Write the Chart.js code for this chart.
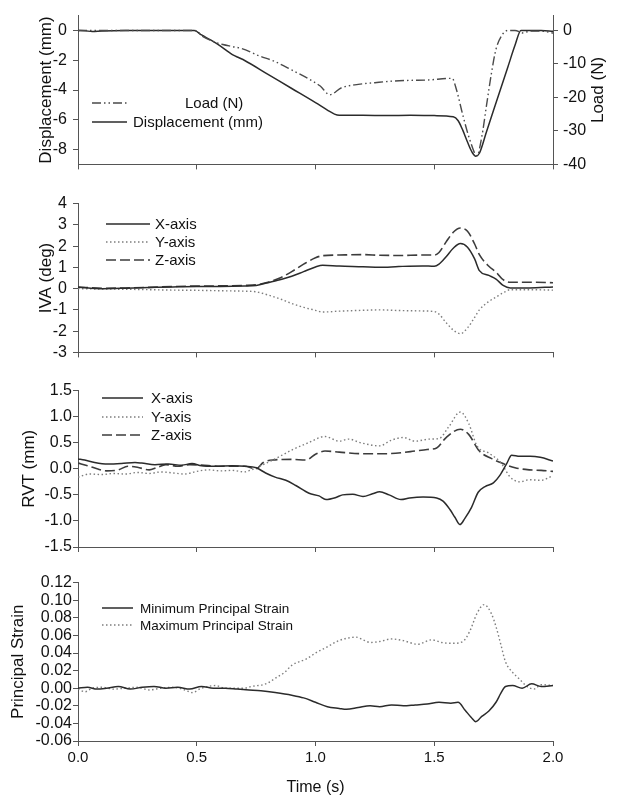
<!DOCTYPE html>
<html>
<head>
<meta charset="utf-8">
<script src="https://cdn.jsdelivr.net/npm/chart.js@4.4.1/dist/chart.umd.min.js"></script>
<style>
  html, body { margin: 0; padding: 0; background: #fff; }
  #wrap { position: relative; width: 618px; height: 805px; background: #fff; overflow: hidden; }
  canvas { position: absolute; left: 0; }
</style>
</head>
<body>
<div id="wrap">
  <canvas id="c1" width="618" height="180" style="top:0px"></canvas>
  <canvas id="c2" width="618" height="180" style="top:188px"></canvas>
  <canvas id="c3" width="618" height="179" style="top:380px"></canvas>
  <canvas id="c4" width="618" height="233" style="top:572px"></canvas>
</div>
<script>
// ---------------- DATA ----------------
const timeTicks = [0, 0.5, 1.0, 1.5, 2.0];

// Panel 1: displacement (mm) and load (N)
const dispTicks = [-8, -6, -4, -2, 0];
const loadTicks = [-40, -30, -20, -10, 0];
const dispTime = [0,0.03,0.06,0.1,0.2,0.3,0.4,0.49,0.52,0.56,0.6,0.63,0.65,0.68,0.7,0.8,0.9,1.0,1.05,1.08,1.1,1.2,1.3,1.4,1.5,1.58,1.6,1.62,1.64,1.66,1.675,1.69,1.72,1.75,1.78,1.81,1.84,1.865,1.9,1.95,2.0];
const dispValues = [0,-0.02,-0.07,-0.03,0,0,0,0,-0.3,-0.65,-1.05,-1.4,-1.62,-1.85,-2.0,-2.95,-3.9,-4.85,-5.35,-5.62,-5.7,-5.7,-5.72,-5.7,-5.72,-5.8,-6.05,-6.7,-7.5,-8.2,-8.45,-8.25,-6.8,-5.35,-3.9,-2.45,-1.0,0,0,0,-0.05];
const loadTime = [0,0.1,0.2,0.3,0.4,0.49,0.53,0.57,0.61,0.65,0.69,0.76,0.83,0.9,0.97,1.02,1.06,1.11,1.18,1.25,1.33,1.4,1.47,1.575,1.594,1.62,1.65,1.68,1.70,1.72,1.74,1.76,1.79,1.81,1.84,1.876,1.90,1.95,2.0];
const loadValues = [0,0,0,0,0,0,-2.0,-3.3,-4.2,-4.8,-5.4,-7.5,-9.3,-11.8,-14.4,-16.6,-19.2,-17.1,-16.1,-15.6,-15.1,-14.9,-14.8,-14.3,-17.8,-25.2,-32.7,-37.4,-31.8,-22.4,-13.1,-5.6,-0.9,0,0,-0.75,-0.2,-0.2,-0.75];

// Panel 2: IVA (deg)
const ivaTicks = [-3, -2, -1, 0, 1, 2, 3, 4];
const ivaTime = [0,0.1,0.2,0.3,0.4,0.5,0.6,0.7,0.75,0.8,0.85,0.9,0.95,1.0,1.03,1.1,1.2,1.27,1.35,1.45,1.5,1.52,1.55,1.58,1.61,1.64,1.67,1.69,1.73,1.76,1.79,1.82,1.9,2.0];
const ivaX = [0.07,0.0,0.02,0.05,0.08,0.1,0.1,0.12,0.15,0.28,0.42,0.58,0.8,1.02,1.1,1.06,1.03,1.0,1.04,1.07,1.05,1.15,1.5,1.9,2.12,1.95,1.4,0.85,0.62,0.45,0.15,0.03,0.03,0.08];
const ivaZ = [0.08,0.02,0.03,0.06,0.1,0.12,0.13,0.15,0.18,0.3,0.5,0.8,1.15,1.45,1.55,1.58,1.6,1.57,1.56,1.58,1.58,1.7,2.2,2.65,2.85,2.7,2.1,1.6,1.05,0.78,0.42,0.3,0.3,0.28];
const ivaY = [0.0,-0.02,-0.03,-0.05,-0.07,-0.08,-0.1,-0.12,-0.15,-0.3,-0.48,-0.7,-0.88,-1.02,-1.1,-1.06,-1.02,-1.0,-1.03,-1.05,-1.08,-1.2,-1.6,-1.95,-2.12,-1.85,-1.35,-1.0,-0.6,-0.4,-0.2,-0.05,-0.05,-0.07];

// Panel 3: RVT (mm)
const rvtTicks = [-1.5, -1.0, -0.5, 0.0, 0.5, 1.0, 1.5];
const rvtXTime = [0,0.028,0.07,0.127,0.183,0.24,0.268,0.324,0.38,0.437,0.48,0.52,0.578,0.65,0.705,0.75,0.79,0.83,0.875,0.917,0.973,1.015,1.044,1.086,1.114,1.157,1.2,1.24,1.27,1.31,1.36,1.396,1.453,1.51,1.537,1.566,1.587,1.608,1.629,1.657,1.685,1.714,1.749,1.777,1.805,1.826,1.86,1.904,1.946,2.0];
const rvtX = [0.19,0.17,0.12,0.09,0.1,0.12,0.11,0.08,0.09,0.07,0.1,0.06,0.05,0.06,0.05,0.02,-0.08,-0.16,-0.22,-0.32,-0.47,-0.52,-0.59,-0.55,-0.5,-0.49,-0.53,-0.48,-0.44,-0.5,-0.59,-0.56,-0.54,-0.56,-0.62,-0.78,-0.93,-1.07,-0.95,-0.74,-0.45,-0.34,-0.27,-0.12,0.1,0.26,0.24,0.24,0.22,0.15];
const rvtYTime = [0,0.05,0.1,0.15,0.2,0.25,0.3,0.35,0.4,0.45,0.5,0.55,0.6,0.65,0.7,0.73,0.77,0.83,0.9,0.97,1.04,1.1,1.14,1.19,1.27,1.32,1.37,1.42,1.48,1.52,1.56,1.61,1.645,1.68,1.73,1.78,1.82,1.86,1.9,1.95,2.0];
const rvtY = [-0.16,-0.1,-0.11,-0.09,-0.1,-0.07,-0.09,-0.06,-0.08,-0.1,-0.05,-0.02,-0.04,-0.03,-0.06,-0.02,0.06,0.19,0.36,0.5,0.62,0.53,0.57,0.5,0.44,0.55,0.6,0.53,0.57,0.58,0.8,1.09,0.87,0.44,0.3,0.12,-0.16,-0.25,-0.21,-0.22,-0.13];
const rvtZTime = [0,0.04,0.08,0.12,0.17,0.21,0.25,0.3,0.33,0.37,0.42,0.47,0.52,0.6,0.7,0.75,0.78,0.82,0.9,0.96,1.0,1.04,1.1,1.2,1.3,1.4,1.47,1.51,1.55,1.61,1.645,1.69,1.74,1.79,1.84,1.9,1.95,2.0];
const rvtZ = [0.11,0.06,0.0,-0.04,-0.02,0.05,0.03,-0.02,0.02,0.08,0.05,0.08,0.07,0.05,0.05,0.0,0.12,0.17,0.18,0.17,0.28,0.34,0.32,0.29,0.29,0.33,0.37,0.4,0.6,0.76,0.66,0.34,0.2,0.1,0.02,-0.02,-0.03,-0.05];

// Panel 4: principal strain
const strainTicks = [-0.06, -0.04, -0.02, 0.00, 0.02, 0.04, 0.06, 0.08, 0.10, 0.12];
const minTime = [0,0.04,0.08,0.12,0.17,0.22,0.27,0.32,0.37,0.42,0.47,0.52,0.57,0.62,0.67,0.72,0.77,0.83,0.9,0.95,1.0,1.05,1.1,1.13,1.18,1.23,1.27,1.32,1.37,1.42,1.47,1.52,1.57,1.6,1.63,1.655,1.675,1.7,1.73,1.76,1.78,1.8,1.83,1.87,1.91,1.95,2.0];
const minStrain = [0.0,0.001,-0.001,0.0,0.002,-0.001,0.001,0.002,0.0,0.001,-0.001,0.002,0.0,0.0,-0.001,-0.002,-0.003,-0.005,-0.008,-0.011,-0.016,-0.021,-0.023,-0.024,-0.022,-0.02,-0.021,-0.019,-0.02,-0.019,-0.018,-0.016,-0.017,-0.016,-0.025,-0.033,-0.038,-0.032,-0.026,-0.016,-0.006,0.002,0.003,0.0,0.005,0.002,0.003];
const maxTime = [0,0.03,0.06,0.1,0.15,0.2,0.25,0.3,0.35,0.4,0.45,0.48,0.52,0.58,0.62,0.66,0.7,0.73,0.78,0.8,0.84,0.87,0.9,0.93,0.96,1.0,1.05,1.09,1.12,1.17,1.2,1.23,1.27,1.32,1.37,1.43,1.49,1.53,1.58,1.62,1.65,1.68,1.71,1.74,1.76,1.78,1.8,1.83,1.86,1.89,1.92,1.95,2.0];
const maxStrain = [-0.001,-0.004,0.0,0.001,-0.001,0.0,0.001,-0.002,0.0,0.001,-0.002,-0.005,0.0,0.003,0.0,0.0,0.0,0.002,0.004,0.006,0.013,0.018,0.026,0.03,0.033,0.04,0.047,0.053,0.056,0.058,0.055,0.052,0.053,0.056,0.054,0.05,0.055,0.052,0.051,0.053,0.065,0.085,0.095,0.085,0.07,0.05,0.03,0.018,0.01,0.002,-0.001,0.004,0.003];

// ---------------- STYLES ----------------
const FONT = '"Liberation Sans", Arial, Helvetica, sans-serif';
Chart.defaults.font.family = FONT;
Chart.defaults.color = '#111';
const AXIS = '#555';
const STY = {
  solid:  { borderColor: '#2b2b2b', borderWidth: 1.5, borderDash: [] },
  dotted: { borderColor: '#7d7d7d', borderWidth: 1.4, borderDash: [1.5, 2.5] },
  dashed: { borderColor: '#3c3c3c', borderWidth: 1.6, borderDash: [10, 4] },
  load:   { borderColor: '#4a4a4a', borderWidth: 1.4, borderDash: [9, 3, 1.5, 3, 1.5, 3] }
};
const pts = (ts, vs) => ts.map((t, i) => ({ x: t, y: vs[i] }));
const ds = (label, ts, vs, sty, axis) => Object.assign({
  label, data: pts(ts, vs), pointRadius: 0, fill: false,
  cubicInterpolationMode: 'monotone', yAxisID: axis || 'y'
}, sty);
const setTicks = arr => scale => { scale.ticks = arr.map(v => ({ value: v })); };

// legend drawn inside plot area
const inLegend = {
  id: 'inLegend',
  afterDatasetsDraw(chart, args, opts) {
    const ctx = chart.ctx;
    (opts.items || []).forEach(it => {
      const d = chart.data.datasets[it.ds];
      const y = it.y - opts.top;
      ctx.save();
      ctx.strokeStyle = d.borderColor;
      ctx.lineWidth = d.borderWidth;
      ctx.setLineDash(d.borderDash || []);
      ctx.beginPath(); ctx.moveTo(it.x1, y); ctx.lineTo(it.x2, y); ctx.stroke();
      ctx.setLineDash([]);
      ctx.fillStyle = '#111';
      ctx.font = opts.size + 'px ' + FONT;
      ctx.textAlign = 'left'; ctx.textBaseline = 'middle';
      ctx.fillText(d.label, it.tx, y + 1);
      ctx.restore();
    });
    if (opts.rightTitle) {
      const ca = chart.chartArea;
      ctx.save();
      ctx.translate(opts.rightTitle.x, (ca.top + ca.bottom) / 2);
      ctx.rotate(-Math.PI / 2);
      ctx.fillStyle = '#111';
      ctx.font = '17px ' + FONT;
      ctx.textAlign = 'center'; ctx.textBaseline = 'middle';
      ctx.fillText(opts.rightTitle.text, 0, 0);
      ctx.restore();
    }
  }
};
Chart.register(inLegend);

function xScale(showLabels) {
  return {
    type: 'linear', min: 0, max: 2,
    afterBuildTicks: setTicks(timeTicks),
    afterFit: s => { s.height = showLabels ? 64 : 12; },
    grid: { drawOnChartArea: false, drawTicks: true, tickLength: 5, color: AXIS },
    border: { display: true, color: AXIS, width: 1 },
    ticks: { display: showLabels, autoSkip: false, font: { size: 15 }, padding: 3, color: '#111',
             maxRotation: 0, callback: v => Number(v).toFixed(1) },
    title: { display: showLabels, text: 'Time (s)', font: { size: 16 }, color: '#111',
             padding: { top: 0, bottom: 8 } }
  };
}
function yScale(min, max, ticks, fmt, title, titlePad, tickPad, pos) {
  return {
    type: 'linear', position: pos || 'left', min, max,
    afterBuildTicks: setTicks(ticks),
    afterFit: s => { s.width = pos === 'right' ? 65 : 78; },
    grid: { drawOnChartArea: false, drawTicks: true, tickLength: 5, color: AXIS },
    border: { display: true, color: AXIS, width: 1 },
    ticks: { autoSkip: false, font: { size: 16 }, padding: tickPad, color: '#111', callback: fmt },
    title: { display: !!title, text: title || '', font: { size: 17 }, color: '#111',
             padding: { top: titlePad, bottom: 0 } }
  };
}
function baseOptions(rightPad) {
  return {
    responsive: false, animation: false, devicePixelRatio: 1,
    layout: { padding: { top: 10, left: 0, right: rightPad, bottom: 0 } },
    plugins: { legend: { display: false }, tooltip: { enabled: false } },
    events: []
  };
}

// ---------- Panel 1 ----------
const o1 = baseOptions(0);
o1.scales = {
  x: xScale(false),
  y: yScale(-9, 1, dispTicks, v => String(v), 'Displacement (mm)', 36, 6),
  y2: yScale(-40, 40 / 9, loadTicks, v => String(v), null, 0, 5, 'right')
};
o1.plugins.inLegend = { top: 0, size: 15,
  items: [ { ds: 0, x1: 92, x2: 127, y: 103, tx: 185 },
           { ds: 1, x1: 92, x2: 127, y: 122, tx: 133 } ],
  rightTitle: { text: 'Load (N)', x: 598 } };
new Chart(document.getElementById('c1'), {
  type: 'line',
  data: { datasets: [
    ds('Load (N)', loadTime, loadValues, STY.load, 'y2'),
    ds('Displacement (mm)', dispTime, dispValues, STY.solid, 'y')
  ] },
  options: o1
});

// ---------- Panel 2 ----------
const o2 = baseOptions(65);
o2.scales = { x: xScale(false), y: yScale(-3, 4, ivaTicks, v => String(v), 'IVA (deg)', 36, 6) };
o2.plugins.inLegend = { top: 188, size: 15,
  items: [ { ds: 0, x1: 106, x2: 150, y: 224, tx: 155 },
           { ds: 1, x1: 106, x2: 150, y: 242, tx: 155 },
           { ds: 2, x1: 106, x2: 150, y: 260, tx: 155 } ] };
new Chart(document.getElementById('c2'), {
  type: 'line',
  data: { datasets: [
    ds('X-axis', ivaTime, ivaX, STY.solid),
    ds('Y-axis', ivaTime, ivaY, STY.dotted),
    ds('Z-axis', ivaTime, ivaZ, STY.dashed)
  ] },
  options: o2
});

// ---------- Panel 3 ----------
const o3 = baseOptions(65);
o3.scales = { x: xScale(false), y: yScale(-1.5, 1.5, rvtTicks, v => Number(v).toFixed(1), 'RVT (mm)', 19, 1) };
o3.plugins.inLegend = { top: 380, size: 15,
  items: [ { ds: 0, x1: 102, x2: 143, y: 398, tx: 151 },
           { ds: 1, x1: 102, x2: 143, y: 417, tx: 151 },
           { ds: 2, x1: 102, x2: 143, y: 435, tx: 151 } ] };
new Chart(document.getElementById('c3'), {
  type: 'line',
  data: { datasets: [
    ds('X-axis', rvtXTime, rvtX, STY.solid),
    ds('Y-axis', rvtYTime, rvtY, STY.dotted),
    ds('Z-axis', rvtZTime, rvtZ, STY.dashed)
  ] },
  options: o3
});

// ---------- Panel 4 ----------
const o4 = baseOptions(65);
o4.scales = { x: xScale(true), y: yScale(-0.06, 0.12, strainTicks, v => Number(v).toFixed(2), 'Principal Strain', 8, 1) };
o4.plugins.inLegend = { top: 572, size: 13.5,
  items: [ { ds: 0, x1: 102, x2: 133, y: 608, tx: 140 },
           { ds: 1, x1: 102, x2: 133, y: 625, tx: 140 } ] };
new Chart(document.getElementById('c4'), {
  type: 'line',
  data: { datasets: [
    ds('Minimum Principal Strain', minTime, minStrain, STY.solid),
    ds('Maximum Principal Strain', maxTime, maxStrain, STY.dotted)
  ] },
  options: o4
});
</script>
</body>
</html>
